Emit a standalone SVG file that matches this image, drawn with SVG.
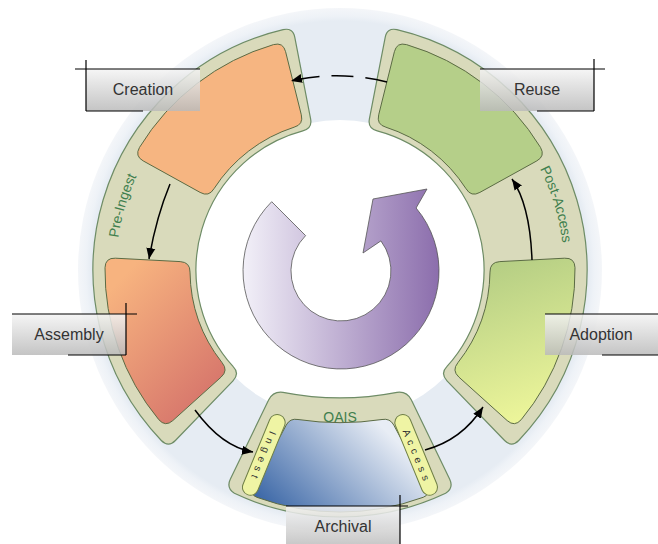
<svg xmlns="http://www.w3.org/2000/svg" width="658" height="544" viewBox="0 0 658 544">
<defs>
<style>
.band{fill:#d9dabb;stroke:#6e8c66;stroke-width:1.2}
.card{stroke:#5b6b44;stroke-width:1}
.lbl{fill:url(#lblG);fill-opacity:.85}
.lline{stroke:#000;stroke-width:1.2;fill:none}
.ltxt{font-family:"Liberation Sans",Arial,sans-serif;font-size:16px;fill:#333;text-anchor:middle}
.gtxt{font-family:"Liberation Sans",Arial,sans-serif;font-size:14px;fill:#3f7f4e}
.ptxt{font-family:"Liberation Sans",Arial,sans-serif;font-size:10px;fill:#333;text-anchor:middle;letter-spacing:4.5px}
.pill{fill:#eff4a4;stroke:#6f7f47;stroke-width:1}
.conn{fill:none;stroke:#000;stroke-width:1.5}
</style>
<radialGradient id="ringG" cx="340" cy="270" r="262" gradientUnits="userSpaceOnUse">
<stop offset="0.95" stop-color="#e6ecf3"/><stop offset="0.97" stop-color="#eef2f7"/><stop offset="1" stop-color="#f4f6f9"/>
</radialGradient>
<linearGradient id="lblG" x1="0" y1="0" x2="0" y2="1"><stop offset="0" stop-color="#f4f4f4"/><stop offset="1" stop-color="#bababa"/></linearGradient>
<linearGradient id="asmG" gradientUnits="userSpaceOnUse" x1="110" y1="290" x2="225" y2="400"><stop offset="0" stop-color="#f7b37f"/><stop offset="1" stop-color="#d4716a"/></linearGradient>
<linearGradient id="adoG" gradientUnits="userSpaceOnUse" x1="490" y1="265" x2="545" y2="420"><stop offset="0" stop-color="#b5ce84"/><stop offset="1" stop-color="#eff79b"/></linearGradient>
<linearGradient id="arcG" gradientUnits="userSpaceOnUse" x1="262" y1="505" x2="360" y2="405"><stop offset="0" stop-color="#3a66a6"/><stop offset="1" stop-color="#e8edf5"/></linearGradient>
<linearGradient id="cycG" gradientUnits="userSpaceOnUse" x1="243" y1="0" x2="440" y2="0"><stop offset="0" stop-color="#f2f0f8"/><stop offset="1" stop-color="#8b6dac"/></linearGradient>
<marker id="ah" markerWidth="12" markerHeight="10" refX="11" refY="5" orient="auto" markerUnits="userSpaceOnUse"><path d="M0,0.5 L11,5 L0,9.5 Z" fill="#000"/></marker>
</defs>

<g id="ring">
<circle cx="340" cy="270" r="262" fill="url(#ringG)"/>
<circle cx="340" cy="270" r="150" fill="#fff"/>
</g>

<g id="pre-ingest">
<path class="band" d="M175.4,440.5 Q168.4,447.7 161.3,440.5 A247,247 0 0 1 283.1,29.6 Q292.9,27.5 294.8,37.3 L310.6,118.8 Q312.5,128.6 302.8,130.9 A144,144 0 0 0 233.0,366.4 Q240.0,373.6 233.0,380.8 Z"/>
<path id="tpPre" d="M122.2,322.3 A224,224 0 0 1 185.8,107.5" fill="none"/>
<text class="gtxt"><textPath href="#tpPre" startOffset="50%" text-anchor="middle">Pre-Ingest</textPath></text>
</g>

<g id="post-access">
<path class="band" d="M504.6,440.5 Q511.6,447.7 518.7,440.5 A247,247 0 0 0 396.9,29.6 Q387.1,27.5 385.2,37.3 L369.4,118.8 Q367.5,128.6 377.2,130.9 A144,144 0 0 1 447.0,366.4 Q440.0,373.6 447.0,380.8 Z"/>
<path id="tpPost" d="M493.1,106.4 A224,224 0 0 1 558.2,320.8" fill="none"/>
<text class="gtxt"><textPath href="#tpPost" startOffset="50%" text-anchor="middle">Post-Access</textPath></text>
</g>

<g id="oais">
<path class="band" d="M268.6,400.0 L230.4,479.0 Q226,488 234.4,493.3 A247,247 0 0 0 445.6,493.3 Q454,488 449.6,479.0 L411.4,400.0 Q407,391 397,392.3 A300,300 0 0 1 283,392.3 Q273,391 268.6,400.0 Z"/>
<text x="340" y="422" class="gtxt" text-anchor="middle">OAIS</text>
</g>

<g id="creation">
<path class="card" fill="#f6b581" d="M143.2,160.9 Q134.5,156.1 139.5,147.4 A235,235 0 0 1 273.5,44.6 Q283.2,42.0 285.6,51.7 L301.3,114.8 Q303.7,124.5 294.1,127.2 A150,150 0 0 0 214.0,188.7 Q208.8,197.3 200.1,192.4 Z"/>
</g>

<g id="reuse">
<path class="card" fill="#b5cf89" d="M536.8,160.9 Q545.5,156.1 540.5,147.4 A235,235 0 0 0 406.5,44.6 Q396.8,42.0 394.4,51.7 L378.7,114.8 Q376.3,124.5 385.9,127.2 A150,150 0 0 1 466.0,188.7 Q471.2,197.3 479.9,192.4 Z"/>
</g>

<g id="assembly">
<path class="card" fill="url(#asmG)" d="M172.8,420.6 Q165.4,427.2 158.8,419.7 A235,235 0 0 1 105.0,267.7 Q105.3,257.7 115.3,258.2 L180.2,261.6 Q190.2,262.2 190.0,272.1 A150,150 0 0 0 222.1,362.7 Q228.5,370.4 221.1,377.1 Z"/>
</g>

<g id="adoption">
<path class="card" fill="url(#adoG)" d="M507.2,420.6 Q514.6,427.2 521.2,419.7 A235,235 0 0 0 575.0,267.7 Q574.7,257.7 564.7,258.2 L499.8,261.6 Q489.8,262.2 490.0,272.1 A150,150 0 0 1 457.9,362.7 Q451.5,370.4 458.9,377.1 Z"/>
</g>

<g id="archival">
<path class="card" fill="url(#arcG)" stroke="#7d8f9e" d="M286.2,425.1 L253.1,487.3 Q249.3,494.4 256.8,497.3 A242,242 0 0 0 423.2,497.3 Q430.7,494.4 426.9,487.3 L393.8,425.1 Q390,418 382,419.5 A280,280 0 0 1 298,419.5 Q290,418 286.2,425.1 Z"/>
</g>

<g id="ingest" transform="translate(263.8,454.9) rotate(112.4)">
<rect class="pill" x="-43" y="-8" width="86" height="16" rx="8"/>
<text class="ptxt" x="2.2" y="3.5">Ingest</text>
</g>

<g id="access" transform="translate(416.2,454.9) rotate(67.6)">
<rect class="pill" x="-43" y="-8" width="86" height="16" rx="8"/>
<text class="ptxt" x="2.2" y="3.5">Access</text>
</g>

<g id="connectors">
<path class="conn" d="M170,184 Q156,218 149,259" marker-end="url(#ah)"/>
<path class="conn" d="M195,410 Q222,447 253,452" marker-end="url(#ah)"/>
<path class="conn" d="M425,450 Q462,440 483,407" marker-end="url(#ah)"/>
<path class="conn" d="M532,260 Q530,205 512,179" marker-end="url(#ah)"/>
<path class="conn" d="M387,82 Q338,70 291,81" stroke-dasharray="22 12" marker-end="url(#ah)"/>
</g>

<g id="cycle">
<path fill="url(#cycG)" stroke="#555" stroke-width="0.8" d="M271.7,201.7 A98,98 0 1 0 416.1,208.0 L427,189 L373,199 L363,253 L380.9,240.9 A50,50 0 1 1 305.6,235.6 Z"/>
</g>

<g id="label-creation">
<rect class="lbl" x="86" y="69" width="114" height="42"/>
<path class="lline" d="M75,69 H200 M86,60 V111 M86,111 H143"/>
<text class="ltxt" x="143" y="95">Creation</text>
</g>
<g id="label-reuse">
<rect class="lbl" x="480" y="69" width="114" height="42"/>
<path class="lline" d="M480,69 H605 M594,59 V111 M537,111 H594"/>
<text class="ltxt" x="537" y="95">Reuse</text>
</g>
<g id="label-assembly">
<rect class="lbl" x="12" y="314" width="114" height="41"/>
<path class="lline" d="M12,314 H137 M126,303 V355 M68,355 H126"/>
<text class="ltxt" x="69" y="340">Assembly</text>
</g>
<g id="label-adoption">
<rect class="lbl" x="545" y="314" width="114" height="41"/>
<path class="lline" d="M545,314 H658 M602,355 H658"/>
<text class="ltxt" x="601" y="340">Adoption</text>
</g>
<g id="label-archival">
<rect class="lbl" x="286" y="506" width="114" height="42"/>
<path class="lline" d="M286,506 H408 M400,495 V544"/>
<text class="ltxt" x="343" y="532">Archival</text>
</g>
</svg>
